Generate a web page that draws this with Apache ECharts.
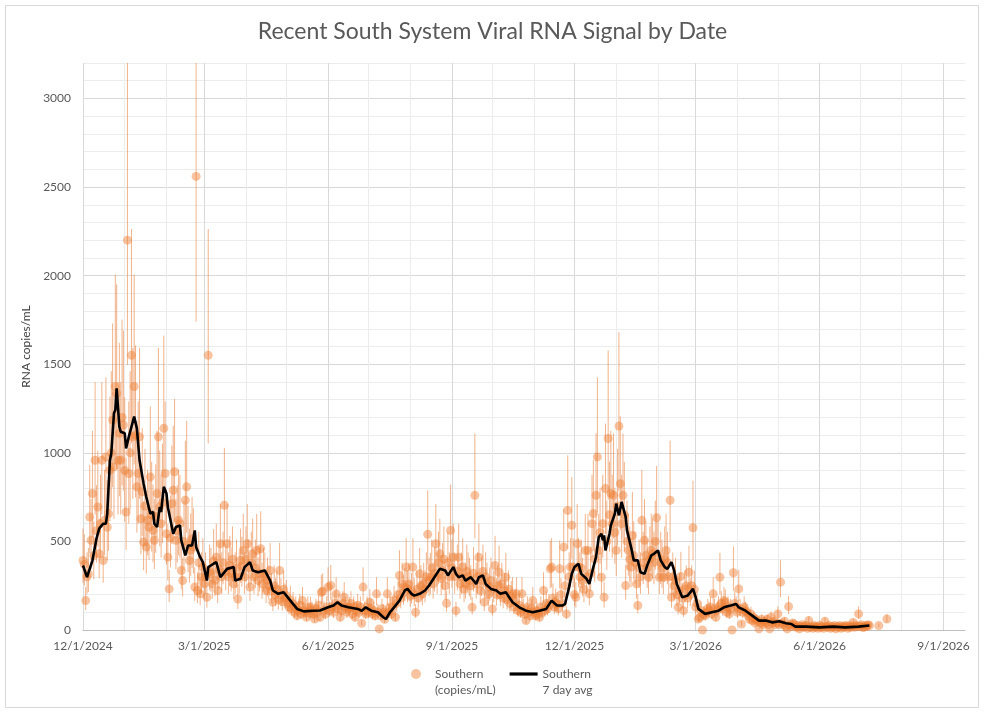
<!DOCTYPE html>
<html><head><meta charset="utf-8">
<script src="https://cdn.jsdelivr.net/npm/echarts@6/dist/echarts.min.js"></script>
<style>html,body{margin:0;padding:0;background:#fff}#c{width:985px;height:713px}</style>
</head><body><div id="c"></div><script>
const chartTitle = 'Recent South System Viral RNA Signal by Date';
const yAxisName = 'RNA copies/mL';
const seriesNames = ['Southern\n(copies/mL)', 'Southern\n7 day avg'];
const firstDate = '2024-12-01';
const lastDate = '2026-09-17';
const tickLabels = ['12/1/2024','3/1/2025','6/1/2025','9/1/2025','12/1/2025','3/1/2026','6/1/2026','9/1/2026'];
const yMin = 0, yMax = 3200, yLabelStep = 500;
const errLowFactor = 0.68, errHighFactor = 1.46;

// daily samples, index 0 = firstDate
const dailyValues = [
392,370,166,300,317,638,506,770,420,958,
560,694,430,600,958,392,620,977,580,657,
902,1000,1185,921,1374,1336,958,1110,958,1200,
1157,900,666,2200,883,1000,1550,1090,1374,1100,
808,883,1090,628,780,496,700,468,620,581,
864,650,562,506,640,770,1090,694,600,720,
1138,883,543,411,232,520,713,789,893,506,
560,620,600,336,279,500,732,808,480,392,
450,515,470,242,2560,223,380,204,300,355,
260,300,185,1550,330,317,260,390,280,411,
223,340,487,300,380,704,330,487,300,364,
320,400,260,300,350,175,300,392,360,449,
300,400,487,350,242,380,430,300,350,449,
280,320,459,260,317,300,223,280,250,336,
220,157,250,200,230,170,336,200,160,230,
180,194,150,130,170,120,147,100,130,81,
110,140,90,166,110,100,72,130,95,128,
110,90,62,120,100,140,72,213,219,110,
90,130,242,110,251,130,100,150,204,120,
140,72,110,150,185,130,100,120,128,150,
90,130,72,110,140,100,130,38,242,110,
90,130,100,157,120,90,110,80,204,100,
6,80,120,100,60,90,204,100,130,90,
128,170,72,150,200,308,180,260,210,240,
355,230,260,190,220,355,200,100,230,180,
317,250,204,260,230,300,540,280,298,350,
260,320,487,300,380,430,290,336,400,250,
151,380,300,562,350,411,300,109,330,411,
260,300,355,230,260,330,300,279,250,128,
320,760,260,300,411,223,280,330,157,300,
260,200,242,280,119,230,364,200,250,326,
200,260,180,220,298,170,230,150,190,204,
130,160,204,110,140,100,204,120,90,53,
130,100,80,120,166,100,80,110,90,72,
130,100,223,110,150,120,140,345,355,180,
130,160,147,120,345,200,150,468,250,91,
675,300,355,591,355,200,185,487,355,300,
350,279,230,449,300,449,204,320,600,657,
400,760,977,449,550,298,600,185,798,500,
1081,650,770,600,760,550,449,700,1151,826,
600,760,650,251,500,450,400,355,534,420,
380,260,138,350,300,619,380,506,420,350,
298,400,450,430,380,500,634,420,298,380,
350,298,400,449,380,300,732,185,300,250,
279,200,128,220,302,180,109,230,250,180,
326,200,250,577,230,130,150,62,72,110,
0,90,80,100,120,109,128,90,204,120,
72,110,130,298,150,120,166,157,100,130,
91,120,0,323,150,130,100,232,120,34,
100,130,109,100,80,60,90,53,70,40,
60,50,6,40,60,30,50,40,60,30,
6,72,40,50,30,40,91,30,270,40,
30,50,20,6,132,30,20,40,34,20,
15,25,6,20,30,15,20,25,10,53,
15,20,10,25,15,20,10,25,15,20,
10,49,20,15,25,10,20,15,25,6,
20,15,25,10,20,15,25,20,10,25,
15,20,43,15,25,20,91,20,30,15,
15,25,20,30,25,null,null,null,null,null,
null,25,null,null,null,null,null,62
];

// 7-day average, day offsets from firstDate
const avgDays = [
0,3,7,10,12,15,17,18,20,21,
23,24,25,27,28,31,32,34,36,38,
40,42,45,47,50,52,53,55,57,58,
60,62,63,66,67,69,72,73,76,78,
81,83,84,87,89,92,93,97,99,102,
104,107,112,113,117,120,124,126,130,135,
139,141,145,149,154,159,164,171,176,182,
186,189,192,197,204,207,210,214,219,223,
225,228,231,235,239,241,244,246,250,254,
257,261,265,269,271,275,277,279,282,284,
288,292,294,297,299,303,307,310,314,319,
324,329,334,339,344,348,352,356,358,361,
363,365,368,370,374,376,379,381,383,385,
386,387,388,391,392,395,396,397,398,400,
401,403,404,407,409,412,414,417,419,422,
424,427,429,432,434,437,439,441,445,449,
453,455,457,462,467,472,476,481,485,487,
492,497,502,507,512,517,522,526,529,537,
547,557,566,576,584
];
const avgValues = [
364,298,392,515,572,600,600,657,958,996,
1223,1242,1364,1147,1119,1110,1025,1090,1147,1204,
1138,958,826,751,657,666,600,581,694,666,
808,770,694,581,543,581,590,506,421,477,
477,562,468,411,383,279,355,374,383,298,
317,345,355,279,289,355,383,336,326,336,
279,223,204,213,166,119,105,109,110,128,
138,157,138,128,119,109,128,109,100,72,
62,100,128,166,223,232,204,194,204,223,
251,298,345,336,308,355,317,298,308,279,
298,260,298,308,260,232,223,204,213,157,
128,109,100,109,119,166,138,138,147,242,
317,355,374,317,289,260,355,411,525,543,
506,534,449,543,591,657,713,723,647,723,
732,638,562,468,393,393,326,317,364,421,
430,449,393,355,345,383,336,260,185,194,
232,185,119,91,100,109,128,138,147,128,
109,81,53,53,43,49,38,34,19,19,
15,19,15,19,25
];

const DAY = 86400000;
const t0 = Date.parse(firstDate + 'T00:00:00Z');
const tEnd = Date.parse(lastDate + 'T00:00:00Z');
function dayStr(off){ return new Date(t0 + off*DAY).toISOString().slice(0,10); }
function fmtDate(s){ const p = s.split('-'); return (+p[1]) + '/' + (+p[2]) + '/' + p[0]; }
const categories = [];
for (let d = 0; t0 + d*DAY <= tEnd; d++) categories.push(dayStr(d));

const scatterData = [], errData = [];
dailyValues.forEach((v, i) => {
  if (v === null) return;
  scatterData.push([dayStr(i), v]);
  errData.push([dayStr(i), v*errLowFactor, v*errHighFactor]);
});
const avgData = avgDays.map((d, i) => [dayStr(d), avgValues[i]]);

const FONT = 'Lato, "Open Sans", sans-serif';
const chart = echarts.init(document.getElementById('c'), null, {renderer:'canvas'});
chart.setOption({
  animation: false,
  backgroundColor: '#fff',
  textStyle: {fontFamily: FONT},
  graphic: [{type:'rect', z:-10, shape:{x:5.5,y:5.5,width:973,height:702}, style:{fill:'#fff', stroke:'#d9d9d9', lineWidth:1}}],
  title: {text: chartTitle, left:'center', top:15, textStyle:{fontFamily:FONT, fontSize:23, fontWeight:'normal', color:'#595959'}},
  grid: {left:83, right:20, top:63, bottom:83, containLabel:false},
  legend: {
    top: 645, left: 406, itemGap: 14, itemWidth: 28, itemHeight: 10,
    formatter: name => '\u00a0\n' + name,
    textStyle: {fontFamily:FONT, fontSize:12, color:'#595959', lineHeight:16},
    data: [
      {name: seriesNames[0], icon:'circle'},
      {name: seriesNames[1], icon:'path://M0 0 H28 V3.2 H0 Z', itemStyle:{color:'#000'}}
    ]
  },
  xAxis: {
    type:'category', data: categories, boundaryGap:false,
    axisLine:{lineStyle:{color:'#bfbfbf'}}, axisTick:{show:false},
    axisLabel:{interval:(i, v) => tickLabels.includes(fmtDate(v)), formatter:v => fmtDate(v), color:'#595959', fontSize:12, margin:10, fontFamily:FONT},
    splitLine:{show:true, interval:(i, v) => v.endsWith('-01'), lineStyle:{color:['#d9d9d9','#ececec','#ececec'], width:1}}
  },
  yAxis: {
    type:'value', min:yMin, max:yMax, interval:100,
    name: yAxisName, nameLocation:'middle', nameGap:46, nameRotate:90,
    nameTextStyle:{fontFamily:FONT, fontSize:12, color:'#404040'},
    axisLine:{show:false}, axisTick:{show:false},
    axisLabel:{formatter:v => (v % yLabelStep === 0 && v <= 3000) ? String(v) : '', color:'#595959', fontSize:12, margin:12, fontFamily:FONT},
    splitLine:{show:true, lineStyle:{color:['#d9d9d9','#ececec','#ececec','#ececec','#ececec'], width:1}}
  },
  series: [
    {
      name: seriesNames[0] + ' err', type:'custom', data: errData, z:1, silent:true,
      encode:{x:0, y:[1,2]},
      renderItem(params, api){
        const x = api.value(0), lo = api.value(1), hi = Math.min(api.value(2), yMax);
        const p1 = api.coord([x, lo]), p2 = api.coord([x, hi]);
        return {type:'line', shape:{x1:p1[0], y1:p1[1], x2:p2[0], y2:p2[1]}, style:{stroke:'rgba(232,128,60,0.6)', lineWidth:1}};
      }
    },
    {
      name: seriesNames[0], type:'scatter', data: scatterData, symbol:'circle', symbolSize:9, z:2,
      itemStyle:{color:'rgba(237,125,49,0.58)'}
    },
    {
      name: seriesNames[1], type:'line', data: avgData, showSymbol:false, symbol:'none', z:3,
      lineStyle:{color:'#000', width:2.6}, itemStyle:{color:'#000'}
    }
  ]
});
</script></body></html>
